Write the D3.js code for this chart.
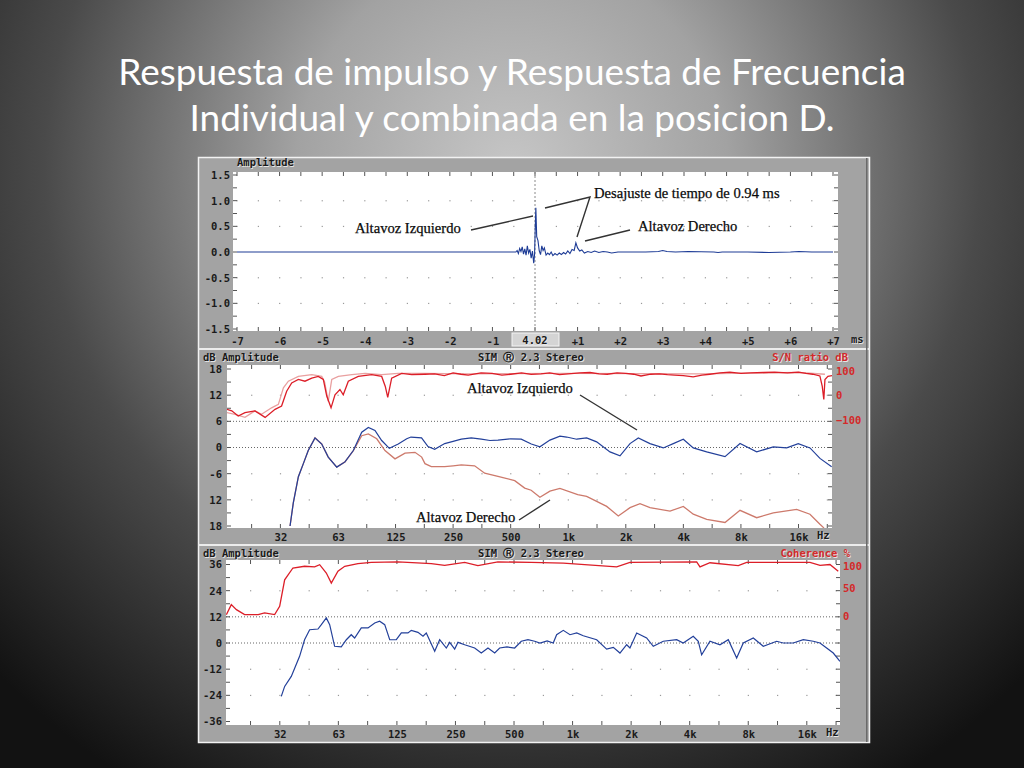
<!DOCTYPE html>
<html><head><meta charset="utf-8">
<script src="https://cdn.jsdelivr.net/npm/d3@7"></script>
<style>body{margin:0;background:#000}svg{display:block}</style>
</head><body><svg id="c" width="1024" height="768"></svg>
<script>
// ---------- DATA ----------
const titleLines = ["Respuesta de impulso y Respuesta de Frecuencia", "Individual y combinada en la posicion D."];

// Panel 1: impulse response (time in ms, amplitude)
const impulseTime = [-7,-0.45,-0.42,-0.39,-0.36,-0.33,-0.30,-0.27,-0.24,-0.21,-0.18,-0.15,-0.12,-0.09,-0.06,-0.03,-0.01,0.01,0.02,0.04,0.07,0.10,0.13,0.16,0.19,0.22,0.26,0.30,0.34,0.38,0.42,0.47,0.52,0.57,0.62,0.67,0.72,0.77,0.82,0.87,0.92,0.96,1.00,1.05,1.10,1.16,1.24,1.32,1.40,1.50,1.60,1.70,1.80,1.95,2.2,2.6,2.9,3.0,3.1,3.3,3.6,4.2,4.3,4.4,5.0,5.5,6.0,6.2,6.5,7.0];
const impulseAmp  = [0,0,0.03,-0.03,0.07,0.01,0.1,-0.04,0.06,-0.06,0.12,-0.02,0.05,-0.12,0.02,-0.22,-0.05,0.6,0.86,0.3,0.22,0.02,-0.05,0.12,0.03,0.08,-0.06,-0.02,-0.05,0.0,-0.07,-0.03,-0.06,-0.02,-0.05,-0.01,-0.04,0.02,-0.03,0.05,0.03,0.18,0.08,0.02,0.04,-0.02,0.01,-0.01,0.02,-0.01,0.01,0.0,-0.02,0.0,0.0,0.0,0.01,0.03,0.01,0.0,0.01,0.0,-0.01,0.0,0.0,-0.01,0.0,0.01,0.0,0.0];
const timeTicks = [-7,-6,-5,-4,-3,-2,-1,1,2,3,4,5,6,7];
const timeTickLabels = ["-7","-6","-5","-4","-3","-2","-1","+1","+2","+3","+4","+5","+6","+7"];
const ampTicks = [1.5,1.0,0.5,0.0,-0.5,-1.0,-1.5];
const ampTickLabels = ["1.5","1.0","0.5","0.0","-0.5","-1.0","-1.5"];
const cursorLabel = "4.02";

// Frequency axis (both spectrum panels)
const freqTicks = [31.25,62.5,125,250,500,1000,2000,4000,8000,16000];
const freqTickLabels = ["32","63","125","250","500","1k","2k","4k","8k","16k"];

// Panel 2: individual responses (Hz, dB)
const p2Izquierdo = [[35.1,-18],[36.5,-12.7],[38.8,-6.7],[41.2,-3.7],[43.7,-0.7],[47.4,2.2],[51.4,0.8],[55.6,-2.2],[61.6,-4.5],[68,-3.3],[75.2,-0.7],[83.2,3.5],[90.1,4.6],[97.6,3.9],[105.8,1.6],[116,-0.2],[129.2,0.8],[143,2.0],[150.5,2.4],[171,2.2],[184.8,0.2],[200.3,-0.4],[225.9,0.9],[250,1.4],[275.9,1.9],[311,2.2],[351,1.9],[390,1.6],[429,1.7],[500,2.0],[568,1.9],[641,0.8],[711,0.15],[802,1.7],[905,2.6],[981,2.4],[1107,1.9],[1248,2.2],[1408,1.3],[1653,-1.0],[1865,-1.9],[2104,0.9],[2325,2.2],[2676,0.9],[3141,-0.1],[3543,0.9],[3997,1.9],[4507,-0.1],[5297,-1.0],[6603,-2.1],[7912,0.9],[9668,-1.0],[11812,0.15],[13878,-0.1],[15957,0.9],[18368,-0.1],[20719,-2.5],[23856,-4.4]];
const p2Derecho = [[35.1,-18],[36.5,-12.7],[38.8,-6.7],[41.2,-3.7],[43.7,-0.7],[47.4,2.2],[51.4,0.8],[55.6,-2.2],[61.6,-4.5],[68,-3.3],[75.2,-0.7],[83.2,2.7],[90.1,3.1],[99.7,2.0],[110.1,-0.7],[124.2,-2.6],[140.1,-1.3],[158,-1.1],[171.3,-2.2],[178.2,-3.7],[192.3,-4.4],[225.9,-4.4],[250,-4.2],[275.9,-4.0],[324,-4.2],[365.7,-5.9],[429,-6.6],[525,-7.6],[592,-9.3],[640,-9.8],[711,-11.4],[802,-10.0],[905,-9.4],[1121,-10.8],[1248,-11.2],[1589,-13.5],[1827,-15.7],[2104,-13.8],[2373,-12.9],[2676,-13.8],[3406,-14.6],[3997,-13.5],[4507,-15.3],[5297,-16.5],[6603,-17.2],[7912,-14.4],[9668,-16.1],[11812,-15.0],[15650,-14.2],[18368,-15.3],[20719,-17.6],[21560,-18.3],[22500,-19.5]];
const p2SnA = [[16.4,8.75],[17.4,8.4],[18.8,7.2],[20.4,8.0],[23.0,8.4],[26.0,6.9],[29.3,8.75],[31.7,9.5],[33.7,12.9],[35.8,14.8],[38.8,15.6],[42.0,15.2],[45.6,15.9],[49.3,16.3],[52.4,15.6],[54.6,11.8],[57.5,9.1],[60.3,12.1],[64.0,13.3],[66.6,12.1],[70.8,15.2],[79.8,16.3],[93.8,16.7],[105.8,16.3],[110.5,14.0],[113.8,11.5],[119.3,15.9],[134.6,17.0],[151.9,16.7],[178,16.8],[200,16.9],[225,16.5],[250,17.1],[275,16.8],[300,16.6],[350,17.1],[400,17.0],[450,16.6],[500,16.8],[570,17.1],[640,16.75],[720,16.9],[800,17.1],[900,16.7],[1000,16.9],[1150,17.1],[1300,17.2],[1450,16.9],[1600,16.8],[1800,17.1],[2000,17.0],[2200,16.8],[2400,16.4],[2700,16.8],[3000,16.9],[3300,16.7],[3600,16.6],[4000,16.5],[4500,16.2],[5000,16.6],[5500,16.8],[6200,17.1],[7000,17.3],[8000,17.0],[9000,17.1],[10500,17.2],[12000,17.3],[14000,17.1],[16000,17.3],[17500,17.0],[19000,16.8],[20700,16.4],[21300,14.0],[21700,11.0],[22000,15.6],[22800,16.3],[24000,16.5]];
const p2SnB = [[16.4,8.0],[18.1,7.6],[20.4,6.9],[23.0,8.4],[24.9,7.6],[28.1,9.1],[30.5,9.9],[32.4,13.7],[34.4,15.2],[38.8,16.3],[45.6,16.7],[51.4,16.3],[53.2,15.0],[55.6,10.6],[58.0,15.6],[62.8,16.3],[73.8,16.7],[86.6,17.0],[105.8,16.7],[129.2,17.0],[178,17.0],[300,16.9],[1000,17.0],[5000,16.9],[16000,17.2],[22000,16.8]];
const p2LeftTicks = [18,12,6,0,-6,-12,-18];
const p2LeftLabels = ["18","12","6","0","-6","12","18"];
const p2RightTicks = [100,0,-100];

// Panel 3: combined response (Hz, dB) and coherence trace
const p3Combined = [[31.8,-24.5],[33.1,-19.9],[35.8,-15.3],[39.5,-6.1],[41.9,1.5],[44.5,6.1],[49.1,6.4],[51.1,8.4],[54.2,11.5],[56.4,8.4],[59.8,-1.5],[64.7,-1.8],[68.7,1.5],[72.8,3.8],[75.8,2.3],[82.0,6.9],[88.8,6.9],[96.1,9.2],[101.9,10.0],[108.2,8.4],[114.8,1.5],[124.1,1.5],[131.7,4.6],[142.5,4.6],[148.2,5.8],[160.4,4.9],[170.2,3.1],[177,4.6],[195.5,-3.8],[207.4,1.5],[224.3,-2.3],[233.5,0.3],[247.7,-2.8],[257.6,0.3],[278.8,-0.8],[313.8,-2.3],[339.4,-4.6],[367.4,-2.3],[397.7,-4.6],[421.9,-2.3],[460,-1.8],[503.8,-2.3],[545,0.8],[589.8,1.5],[638.5,0.8],[679.7,0],[740,1.0],[795.6,0],[828,3.8],[896,5.8],[969.8,3.8],[1050,4.6],[1135,3.3],[1330,1.5],[1497,-2.8],[1620,-2.0],[1752,-4.6],[1897,-0.8],[1972,-2.3],[2136,4.6],[2403,2.3],[2599,-1.5],[2926,0.8],[3429,1.5],[3706,0],[4172,3.1],[4428,0.8],[4609,-5.4],[5085,0.8],[5723,-0.8],[6316,1.5],[6975,-6.9],[7544,0],[8493,2.3],[9557,-1.5],[11197,0.8],[12110,0],[13631,0],[15347,1.5],[17270,0.8],[18703,0],[20237,-2.3],[21887,-4.6],[23690,-8.4]];
const p3Coherence = [[16.6,13.0],[17.6,17.6],[18.7,15.3],[20.6,13.0],[24.2,13.0],[26.1,13.8],[29.4,13.0],[31.2,16.8],[33.1,29.0],[36.5,34.4],[41.9,35.2],[47.2,34.9],[50.1,35.9],[54.2,32.1],[57.5,27.5],[62.2,32.9],[67.4,35.2],[78.8,36.4],[92.3,37.0],[126.6,37.2],[187.8,36.4],[220,35.6],[278.8,37.0],[326,35.5],[413,37.2],[613,37.0],[896,36.6],[1685,34.9],[1972,37.0],[4344,37.2],[4519,34.9],[5085,36.8],[7110,35.5],[7853,37.0],[14190,37.0],[16613,37.0],[18703,35.6],[21040,36.0],[23215,32.9]];
const p3LeftTicks = [36,24,12,0,-12,-24,-36];
const p3LeftLabels = ["36","24","12","0","-12","-24","-36"];
const p3RightTicks = [100,50,0];

// ---------- DRAW ----------
const svg = d3.select("#c");
const defs = svg.append("defs");
const rg = defs.append("radialGradient").attr("id","bg").attr("gradientUnits","userSpaceOnUse")
  .attr("cx",512).attr("cy",170).attr("r",720);
[[0,"#c6c6c6"],[0.3,"#a2a2a2"],[0.65,"#4a4a4a"],[1,"#121212"]].forEach(s=>rg.append("stop").attr("offset",s[0]).attr("stop-color",s[1]));
svg.append("rect").attr("width",1024).attr("height",768).attr("fill","url(#bg)");

// Title
const tg = svg.append("g");
const t1 = tg.append("text").attr("x",512).attr("y",85).attr("text-anchor","middle")
  .attr("font-family","Lato, 'Open Sans', sans-serif").attr("font-size",31).attr("fill","#fff").text(titleLines[0]);
let w = t1.node().getComputedTextLength();
const fs = 31*788/w;
t1.attr("font-size",fs);
tg.append("text").attr("x",512).attr("y",131).attr("text-anchor","middle")
  .attr("font-family","Lato, 'Open Sans', sans-serif").attr("font-size",fs).attr("fill","#fff").text(titleLines[1]);

// Screenshot frame
const frame = svg.append("g");
frame.append("rect").attr("x",198).attr("y",157).attr("width",672).attr("height",586).attr("fill","#a3a3a3");
frame.append("rect").attr("x",198.5).attr("y",157.5).attr("width",671).attr("height",585).attr("fill","none").attr("stroke","#f2f2f2").attr("stroke-width",1.5);
[348,544].forEach(y=>frame.append("rect").attr("x",198).attr("y",y).attr("width",672).attr("height",2).attr("fill","#ececec"));
frame.append("rect").attr("x",866).attr("y",158).attr("width",1.5).attr("height",584).attr("fill","#6a6a6a");

const MONO = "'DejaVu Sans Mono', 'Liberation Mono', monospace";
function uiText(g,x,y,txt,anchor,color){
  g.append("text").attr("x",x+0.8).attr("y",y+0.8).attr("text-anchor",anchor||"start").attr("font-family",MONO)
   .attr("font-size",10.5).attr("font-weight","bold").attr("fill","#e6e6e6").text(txt);
  g.append("text").attr("x",x).attr("y",y).attr("text-anchor",anchor||"start").attr("font-family",MONO)
   .attr("font-size",10.5).attr("font-weight","bold").attr("fill",color||"#1a1a1a").text(txt);
}

function plotBase(id, r){
  const g = svg.append("g");
  g.append("rect").attr("x",r.x0).attr("y",r.y0).attr("width",r.x1-r.x0).attr("height",r.y1-r.y0).attr("fill","#fff");
  defs.append("clipPath").attr("id",id).append("rect").attr("x",r.x0).attr("y",r.y0).attr("width",r.x1-r.x0).attr("height",r.y1-r.y0);
  return g;
}
function edgeTicks(g,r,xs,ys){
  const tk = g.append("g").attr("stroke","#555").attr("stroke-width",1);
  xs.forEach(x=>{tk.append("line").attr("x1",x).attr("x2",x).attr("y1",r.y0).attr("y2",r.y0+4);
                 tk.append("line").attr("x1",x).attr("x2",x).attr("y1",r.y1).attr("y2",r.y1-4);});
  ys.forEach(y=>{tk.append("line").attr("y1",y).attr("y2",y).attr("x1",r.x0).attr("x2",r.x0+4);
                 tk.append("line").attr("y1",y).attr("y2",y).attr("x1",r.x1).attr("x2",r.x1-4);});
}
function gridDots(g,xs,ys){
  const d = g.append("g").attr("fill","#9a9a9a");
  xs.forEach(x=>ys.forEach(y=>d.append("rect").attr("x",x-0.5).attr("y",y-0.5).attr("width",1.2).attr("height",1.2)));
}
function dottedLine(g,r,y){
  g.append("line").attr("x1",r.x0).attr("x2",r.x1).attr("y1",y).attr("y2",y)
   .attr("stroke","#666").attr("stroke-width",1).attr("stroke-dasharray","1,2");
}
function styleAxis(ax,color){
  ax.select(".domain").remove();
  ax.selectAll("text").attr("font-family",MONO).attr("font-size",10.5).attr("font-weight","bold").attr("fill",color||"#1a1a1a");
}
function annot(x,y,txt){
  svg.append("text").attr("x",x).attr("y",y).attr("font-family","'Liberation Serif', 'DejaVu Serif', serif")
    .attr("font-size",14.6).attr("fill","#0a0a0a").attr("stroke","#0a0a0a").attr("stroke-width",0.25).text(txt);
}
function leader(pts){
  svg.append("path").attr("d",d3.line()(pts)).attr("fill","none").attr("stroke","#333").attr("stroke-width",1.4);
}

// ----- Panel 1 -----
const r1 = {x0:233,x1:838,y0:172,y1:331};
const x1s = d3.scaleLinear().domain([-7,7]).range([237,833]);
const y1s = d3.scaleLinear().domain([-1.5,1.5]).range([329,175]);
const g1 = plotBase("c1",r1);
gridDots(g1, d3.range(-7,7.01,0.5).map(x1s), [1,0.5,-0.5,-1].map(y1s));
edgeTicks(g1,r1,d3.range(-7,7.01,0.5).map(x1s), d3.range(-1.5,1.51,0.25).map(y1s));
g1.append("line").attr("x1",x1s(0)).attr("x2",x1s(0)).attr("y1",r1.y0).attr("y2",r1.y1)
  .attr("stroke","#8a8a8a").attr("stroke-dasharray","2,2");
g1.append("path").attr("clip-path","url(#c1)")
  .datum(impulseTime.map((t,i)=>[t,impulseAmp[i]]))
  .attr("d",d3.line().x(d=>x1s(d[0])).y(d=>y1s(d[1])))
  .attr("fill","none").attr("stroke","#1e3c96").attr("stroke-width",1.1);
const ui1 = svg.append("g");
uiText(ui1,237,166,"Amplitude");
const ax1 = ui1.append("g").attr("transform","translate(0,331)")
  .call(d3.axisBottom(x1s).tickValues(timeTicks).tickFormat((d,i)=>timeTickLabels[i]).tickSize(0).tickPadding(7));
styleAxis(ax1);
const ay1 = ui1.append("g").attr("transform","translate(232,0)")
  .call(d3.axisLeft(y1s).tickValues(ampTicks).tickFormat((d,i)=>ampTickLabels[i]).tickSize(0).tickPadding(2));
styleAxis(ay1);
ui1.append("rect").attr("x",512).attr("y",333).attr("width",47).attr("height",13).attr("fill","#d4d4d4").attr("stroke","#f4f4f4");
uiText(ui1,x1s(0),344,cursorLabel,"middle");
uiText(ui1,851,343,"ms");

annot(355,233,"Altavoz Izquierdo");
leader([[471,230],[533,216]]);
annot(594,198,"Desajuste de tiempo de 0.94 ms");
leader([[545,208],[590,197],[577,237]]);
annot(638,231,"Altavoz Derecho");
leader([[630,230],[585,241]]);

// ----- Panel 2 -----
const r2 = {x0:227,x1:832,y0:365,y1:528};
const x2s = d3.scaleLog().domain([31.25,16000]).range([280.4,798.5]);
const y2s = d3.scaleLinear().domain([-18,18]).range([526,369]);
const sn2 = d3.scaleLinear().domain([-100,100]).range([420,371]);
const g2 = plotBase("c2",r2);
const halfOct2 = d3.range(-2,20).map(i=>31.25*Math.pow(2,i/2)).filter(f=>x2s(f)>r2.x0+2&&x2s(f)<r2.x1-2);
gridDots(g2, halfOct2.map(x2s), [12,-6,-12].map(y2s));
dottedLine(g2,r2,y2s(6)); dottedLine(g2,r2,y2s(0));
edgeTicks(g2,r2,halfOct2.map(x2s), d3.range(-18,18.1,3).map(y2s));
const line2 = d3.line().x(d=>x2s(d[0])).y(d=>y2s(d[1]));
const c2 = g2.append("g").attr("clip-path","url(#c2)");
c2.append("path").datum(p2SnB).attr("d",line2).attr("fill","none").attr("stroke","#e9a0a0").attr("stroke-width",1.3);
c2.append("path").datum(p2SnA).attr("d",line2).attr("fill","none").attr("stroke","#dc1e28").attr("stroke-width",1.3);
c2.append("path").datum(p2Derecho).attr("d",line2).attr("fill","none").attr("stroke","#cd7a6c").attr("stroke-width",1.3);
c2.append("path").datum(p2Izquierdo).attr("d",line2).attr("fill","none").attr("stroke","#23409a").attr("stroke-width",1.2);
const ui2 = svg.append("g");
uiText(ui2,203,361,"dB Amplitude");
uiText(ui2,531,361,"SIM \u24C7 2.3 Stereo","middle");
uiText(ui2,848,361,"S/N ratio dB","end","#d42a2a");
const ax2 = ui2.append("g").attr("transform","translate(0,528)")
  .call(d3.axisBottom(x2s).tickValues(freqTicks).tickFormat((d,i)=>freqTickLabels[i]).tickSize(0).tickPadding(6));
styleAxis(ax2);
uiText(ui2,817,539,"Hz");
const ay2 = ui2.append("g").attr("transform","translate(222,0)")
  .call(d3.axisLeft(y2s).tickValues(p2LeftTicks).tickFormat((d,i)=>p2LeftLabels[i]).tickSize(0).tickPadding(0));
styleAxis(ay2);
const ar2 = ui2.append("g").attr("transform","translate(834,0)")
  .call(d3.axisRight(sn2).tickValues(p2RightTicks).tickFormat(d3.format("d")).tickSize(0).tickPadding(2));
styleAxis(ar2,"#d42a2a");
annot(467,393,"Altavoz Izquierdo");
leader([[580,395],[637,430]]);
annot(416,522,"Altavoz Derecho");
leader([[519,520],[550,500]]);

// ----- Panel 3 -----
const r3 = {x0:226,x1:840,y0:560,y1:725};
const x3s = d3.scaleLog().domain([31.25,16000]).range([279.8,806.8]);
const y3s = d3.scaleLinear().domain([-36,36]).range([721.5,564.5]);
const coh3 = d3.scaleLinear().domain([0,50,100]).range([616,588,566]);
const g3 = plotBase("c3",r3);
const halfOct3 = d3.range(-2,20).map(i=>31.25*Math.pow(2,i/2)).filter(f=>x3s(f)>r3.x0+2&&x3s(f)<r3.x1-2);
gridDots(g3, halfOct3.map(x3s), [24,-12,-24].map(y3s));
dottedLine(g3,r3,y3s(12)); dottedLine(g3,r3,y3s(0));
edgeTicks(g3,r3,halfOct3.map(x3s), d3.range(-36,36.1,6).map(y3s));
const line3 = d3.line().x(d=>x3s(d[0])).y(d=>y3s(d[1]));
const c3 = g3.append("g").attr("clip-path","url(#c3)");
c3.append("path").datum(p3Coherence).attr("d",line3).attr("fill","none").attr("stroke","#dc1e28").attr("stroke-width",1.3);
c3.append("path").datum(p3Combined).attr("d",line3).attr("fill","none").attr("stroke","#23409a").attr("stroke-width",1.2);
const ui3 = svg.append("g");
uiText(ui3,203,557,"dB Amplitude");
uiText(ui3,531,557,"SIM \u24C7 2.3 Stereo","middle");
uiText(ui3,850,557,"Coherence %","end","#d42a2a");
const ax3 = ui3.append("g").attr("transform","translate(0,725)")
  .call(d3.axisBottom(x3s).tickValues(freqTicks).tickFormat((d,i)=>freqTickLabels[i]).tickSize(0).tickPadding(6));
styleAxis(ax3);
uiText(ui3,826,736,"Hz");
const ay3 = ui3.append("g").attr("transform","translate(222,0)")
  .call(d3.axisLeft(y3s).tickValues(p3LeftTicks).tickFormat((d,i)=>p3LeftLabels[i]).tickSize(0).tickPadding(0));
styleAxis(ay3);
const ar3 = ui3.append("g").attr("transform","translate(841,0)")
  .call(d3.axisRight(coh3).tickValues(p3RightTicks).tickFormat(d3.format("d")).tickSize(0).tickPadding(2));
styleAxis(ar3,"#d42a2a");
</script></body></html>
